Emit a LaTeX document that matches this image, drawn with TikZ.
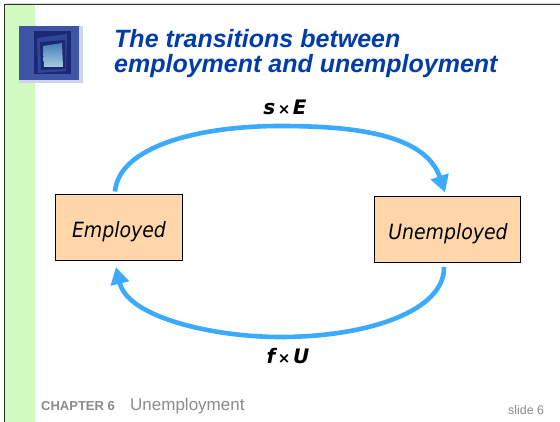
\documentclass[tikz,border=0pt]{standalone}
\usepackage{fontspec}
\setmainfont{Liberation Sans}
\newfontfamily\dejavu{DejaVu Sans}
\newfontfamily\condfont{DejaVu Sans Condensed}
\usetikzlibrary{arrows.meta}
\definecolor{stripgreen}{RGB}{208,250,192}
\definecolor{titleblue}{RGB}{0,60,170}
\definecolor{boxfill}{RGB}{255,214,170}
\definecolor{arrowblue}{RGB}{60,170,255}
\definecolor{footgray}{RGB}{140,140,140}
\definecolor{iconmid}{RGB}{62,84,165}
\definecolor{icondark}{RGB}{28,40,115}
\definecolor{iconring}{RGB}{45,70,150}
\definecolor{iconlo}{RGB}{165,205,225}
\definecolor{iconhi}{RGB}{70,125,185}
\tikzset{
  x=1pt,y=-1pt,
  statebox/.style={draw=black,line width=0.9pt,fill=boxfill,inner sep=0pt},
  boxlabel/.style={font=\condfont\itshape\fontsize{21}{23}\selectfont,inner sep=0pt,anchor=base},
  flow/.style={draw=arrowblue,line width=4.6pt,-{Triangle[length=17pt,width=18pt]}},
  rate/.style={font=\dejavu\bfseries\itshape\fontsize{20}{22}\selectfont,inner sep=0pt},
  titletext/.style={font=\bfseries\itshape\fontsize{25}{27}\selectfont,text=titleblue,inner sep=0pt,anchor=base west},
}
\begin{document}
\begin{tikzpicture}
\useasboundingbox (0,0) rectangle (560,422);
\fill[white] (0,0) rectangle (560,422);
\fill[stripgreen] (5,5) rectangle (35,422);
\draw[black!80,line width=0.9pt] (4.5,422) -- (4.5,4.5) -- (560,4.5);
\draw[black!15,line width=0.7pt] (4.5,3.6) -- (560,3.6);
% icon
\fill[iconmid!25!white] (19,26) rectangle (83,83);
\fill[iconmid] (19,26) rectangle (79,80);
\fill[icondark] (34,31) rectangle (71,74);
\fill[iconring] (37,38) -- (67,34) -- (66,71) -- (38,73) -- cycle;
\fill[icondark] (40,42) -- (65,40) -- (65,69) -- (41,70) -- cycle;
\shade[top color=iconhi,bottom color=iconlo] (43,46) -- (62,43) -- (63,67) -- (44,67) -- cycle;
% boxes
\node[statebox,minimum width=127pt,minimum height=66pt] (emp) at (118.5,227) {};
\node[statebox,minimum width=146pt,minimum height=66pt] (unemp) at (447,229) {};
\node[boxlabel] (empt) at (119,238) {Employed};
\node[boxlabel] (unempt) at (448,240) {Unemployed};
% connector ends
\coordinate (a1) at (115,191.5);
\coordinate (a2) at (445,192.5);
\coordinate (b1) at (444,267);
\coordinate (b2) at (116,267);
\draw[flow] (a1) .. controls (119,146) and (200,126) .. (280,126) .. controls (350,126) and (425,133) .. (a2);
\draw[flow] (b1) .. controls (445,310) and (370,337) .. (280,337) .. controls (215,337) and (128,318) .. (b2);
% labels
\node[rate,anchor=base] (l1) at (285,115) {s{\fontsize{15}{16}\selectfont\bfseries\upshape\,×\,}E};
\node[rate,anchor=base] (l2) at (288,363) {f{\fontsize{15}{16}\selectfont\bfseries\upshape\,×\,}U};
\node[titletext] (t1) at (114,47.5) {The transitions between};
\node[titletext] (t2) at (114,72.5) {employment and unemployment};
% footer
\node[anchor=base west,inner sep=0pt,text=footgray,font=\bfseries\fontsize{13}{14}\selectfont] (f1) at (41,410) {CHAPTER 6};
\node[anchor=base west,inner sep=0pt,text=footgray,font=\fontsize{17}{18}\selectfont] (f2) at (130,410) {Unemployment};
\node[anchor=base west,inner sep=0pt,text=footgray,font=\fontsize{12.4}{14}\selectfont] (f3) at (508,414) {slide 6};
\end{tikzpicture}
\end{document}
